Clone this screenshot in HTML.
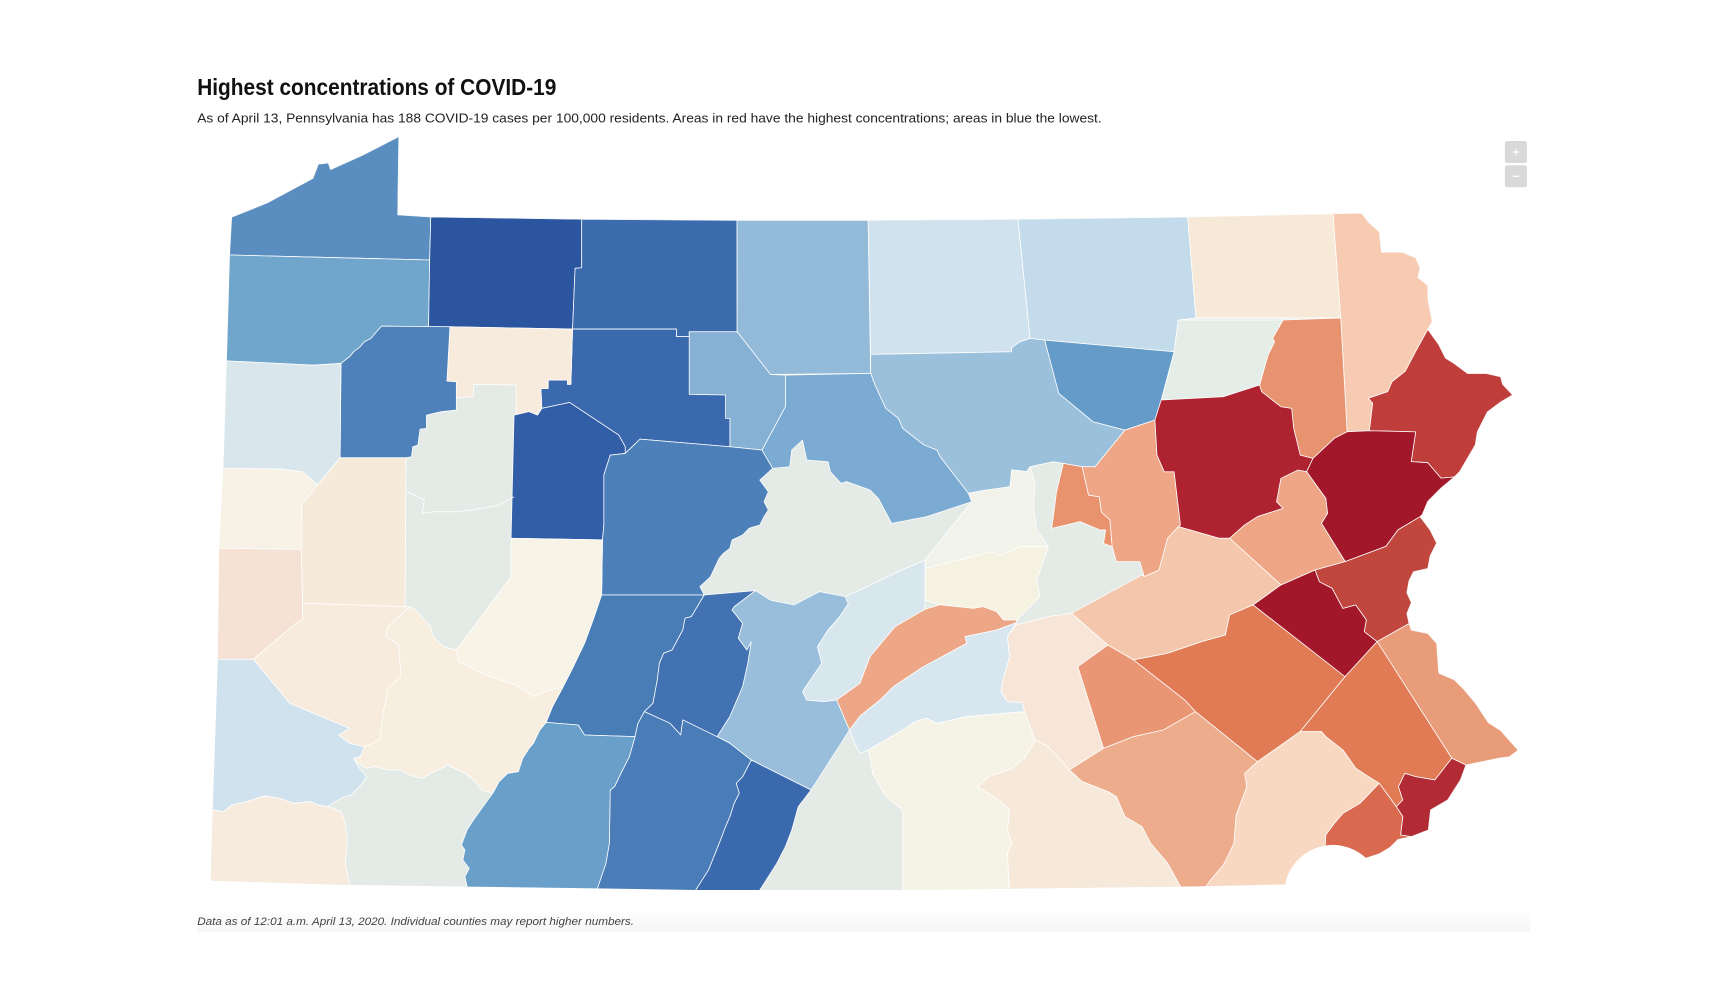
<!DOCTYPE html>
<html><head><meta charset="utf-8"><style>
html,body{margin:0;padding:0;background:#fff;}
svg{display:block;}
</style></head><body>
<svg xmlns="http://www.w3.org/2000/svg" width="1728" height="1008" viewBox="0 0 1568.5 915" preserveAspectRatio="none">
<defs>
<clipPath id="pa"><path d="M210.6,197 L243,184 L284,162 L289,149 L298,148 L300,154 L329,141 L362,124 L361,195 L391,197 L528,199 L669,200 L788,200 L924,199 L1078,197 L1210,194 L1236,193.5 L1242,201.5 L1252,210.5 L1254,229 L1273,229 L1285,234 L1289,243 L1287,252 L1296,259 L1296,271 L1300,292 L1296,299 L1306,313 L1312,325 L1320,330 L1332,339 L1349,339 L1362,342 L1364,349 L1373,358.5 L1362,365 L1350,374 L1341,392 L1339,404 L1325,428 L1320,433 L1308,443 L1296,455 L1291,467 L1289,469 L1298,481 L1304,493 L1298,505 L1296,516 L1283,519 L1279,527 L1277,538 L1281,547 L1277,557 L1279,566 L1281,572 L1296,575 L1304,584 L1306,611 L1320,617 L1329,626 L1339,638 L1351,656 L1362,663 L1370,672 L1378,681 L1370,687 L1362,688 L1330.6,694.4 L1325.6,708 L1314,726.2 L1298.5,735.2 L1296.5,753.4 L1281,759.4 L1269,762 L1262,769 L1252,775 L1240,779 A44,44 0 0 0 1166.5,803 L1071.5,804.8 L819,808 L689.7,807.9 L631.5,807.9 L542.3,806.4 L424,804.8 L317.3,803.3 L191.2,799.4 L193.1,735.2 L197.8,598.5 L199,497.7 L202.8,425.2 L205.9,327.7 L208.7,231.5 Z"/></clipPath>
<linearGradient id="fb" x1="0" y1="0" x2="0" y2="1"><stop offset="0" stop-color="#ffffff"/><stop offset="1" stop-color="#f6f6f6"/></linearGradient>
</defs>

<text x="179" y="86.2" font-family="Liberation Sans, Arial, sans-serif" font-weight="bold" font-size="20.9" fill="#111" textLength="326" lengthAdjust="spacingAndGlyphs">Highest concentrations of COVID-19</text>
<text x="179" y="111.4" font-family="Liberation Sans, Arial, sans-serif" font-size="11.8" fill="#222" textLength="821" lengthAdjust="spacingAndGlyphs">As of April 13, Pennsylvania has 188 COVID-19 cases per 100,000 residents. Areas in red have the highest concentrations; areas in blue the lowest.</text>

<rect x="1366" y="128" width="20" height="20" rx="2" fill="#d9d9d9"/>
<rect x="1366" y="150" width="20" height="20" rx="2" fill="#d9d9d9"/>
<path d="M1373,138 H1379 M1376,135 V141" stroke="#fff" stroke-width="1.2"/>
<path d="M1373,160 H1379" stroke="#fff" stroke-width="1.2"/>

<rect x="179" y="825" width="1210" height="21" fill="url(#fb)"/>
<text x="179" y="839.6" font-family="Liberation Sans, Arial, sans-serif" font-style="italic" font-size="10" fill="#444" textLength="396.5" lengthAdjust="spacingAndGlyphs">Data as of 12:01 a.m. April 13, 2020. Individual counties may report higher numbers.</text>

<g clip-path="url(#pa)">
<rect x="150" y="100" width="1300" height="750" fill="#e4ebe7"/>
<g stroke="#ffffff" stroke-width="0.7" stroke-linejoin="round">
<!-- Erie -->
<polygon fill="#5a8ec0" points="210.6,197 243,184 284,162 289,149 298,148 300,154 329,141 362,124 361,195 391,197 390,236 208.7,231.5 190,231 190,190"/>
<!-- Crawford -->
<polygon fill="#70a5cc" points="208.7,231.5 390,236 389,296.5 346.4,296 340.5,302.6 336.7,307.2 330.8,310.2 327,314.7 321.1,319.3 317.3,323.8 313.4,326.8 309.5,329.9 284.3,331.4 220.3,328.3 205.9,327.7 190,328 190,231"/>
<!-- Warren -->
<polygon fill="#2c55a0" points="391,197 528,199 528,243 522,243.5 519.7,298.7 408.4,296.6 389,296.5 390,236"/>
<!-- McKean -->
<polygon fill="#3c6bae" points="528,199 669,200 669.1,301.1 625.6,301.1 625.6,305.6 614,305.6 614,298.7 519.7,298.7 522,243.5 528,243"/>
<!-- Potter -->
<polygon fill="#93bad8" points="669,200 788,200 790.3,338.9 699.3,339.9 669.1,301.1"/>
<!-- Tioga -->
<polygon fill="#d0e2ee" points="788,200 924,199 935,307.2 926,310.2 918.3,315.6 918.3,319.3 790.3,321.7"/>
<!-- Bradford -->
<polygon fill="#c3dbea" points="924,199 1078,197 1085.6,288.6 1069.6,290.5 1065.7,319.3 948.2,308.7 935,307.2"/>
<!-- Susquehanna -->
<polygon fill="#f7e9d7" points="1078,197 1210,194 1217,288.6 1085.6,288.6"/>
<!-- Wayne -->
<polygon fill="#f6cbb2" points="1210,194 1236,193.5 1242,201.5 1252,210.5 1254,229 1273,229 1285,234 1289,243 1287,252 1296,259 1296,271 1300,292 1296,299 1285,319 1275.6,337 1263.5,346.5 1259.7,355.5 1242,361.5 1246,366 1243,391 1222.8,391.9 1217,288.6"/>
<!-- Pike -->
<polygon fill="#bf3e3b" points="1296,299 1306,313 1312,325 1320,330 1332,339 1349,339 1362,342 1364,349 1373,358.5 1362,365 1350,374 1341,392 1339,404 1325,428 1320,433 1308,434 1296,420 1281,419 1285,392 1243,391 1246,366 1242,361.5 1259.7,355.5 1263.5,346.5 1275.6,337 1285,319"/>
<!-- Lackawanna -->
<polygon fill="#e8936f" points="1164.6,290.5 1217,288.6 1222.8,391.9 1211.2,397.9 1191.8,416.1 1180.2,413.1 1174.3,388.9 1172.4,370.7 1162.7,369.2 1145.2,355.6 1143.3,349.5 1151,322.3 1156.9,310.2 1155,307.2"/>
<!-- Wyoming -->
<polygon fill="#e5ede8" points="1069.6,290.5 1164.6,290.5 1155,307.2 1156.9,310.2 1151,322.3 1143.3,349.5 1110.3,360.1 1054,363.1 1065.7,319.3"/>
<!-- Sullivan -->
<polygon fill="#659bc8" points="948.2,308.7 1065.7,319.3 1054,363.1 1048.3,381.3 1021.1,390.4 992,382.8 961,357.1"/>
<!-- Lycoming -->
<polygon fill="#9bc0dc" points="790.3,321.7 918.3,319.3 918.3,315.6 926,310.2 935,307.2 948.2,308.7 961,357.1 992,382.8 1021.1,390.4 994,423.7 982.3,423.7 965.2,420.6 956.2,419.1 935,423.6 932,428.1 918.3,426.6 916.8,441.8 895.6,444.8 879,447.8 853.3,414.5 850.4,408.5 838.8,404 819.4,388.9 815.5,379.8 803.9,370.7 794.2,349.5 790.3,338.9"/>
<!-- Union -->
<polygon fill="#f1f3eb" points="879,447.8 895.6,444.8 916.8,441.8 918.3,426.6 932,428.1 935,423.6 939.5,438.7 938,459.9 941,481.1 951.6,496.2 925.9,496.2 907.7,503.8 900.2,500.8 839.7,515.9 839.7,508.3 882,455.4"/>
<!-- Clinton -->
<polygon fill="#7babd2" points="712.9,340.5 790.3,338.9 794.2,349.5 803.9,370.7 815.5,379.8 819.4,388.9 838.8,404 850.4,408.5 853.3,414.5 879,447.8 882,455.4 841.2,469 809.4,475.1 797.3,452.4 789.7,444.8 768.5,437.2 763.4,438.8 753.7,428.2 751.7,419.1 732.3,417.6 728.4,399.5 718.7,408.5 716.8,423.7 701.3,425.2 691.6,408.5 712.9,369.2"/>
<!-- Cameron -->
<polygon fill="#86b1d5" points="625.6,301.1 669.1,301.1 699.3,339.9 712.9,340.5 712.9,369.2 691.6,408.5 662.5,405.5 662.5,379.8 658.6,379.8 658.6,358.6 625.6,358"/>
<!-- Elk -->
<polygon fill="#3a69ad" points="519.7,298.7 614,298.7 614,305.6 625.6,305.6 625.6,358 658.6,358.6 658.6,379.8 662.5,379.8 662.5,405.5 581,398.6 567.5,411.6 567.5,405.5 561.6,394.9 517,365.3 513.2,366.2 491.8,370.7 491,352.6 497.6,352.6 497.6,345 515.1,345 515.1,348.9 518.2,348.9"/>
<!-- Forest -->
<polygon fill="#f6ebdc" points="408.4,296.6 519.7,298.7 518.2,348.9 515.1,348.9 515.1,345 497.6,345 497.6,352.6 491,352.6 491.8,370.7 488,376.8 480.2,373.7 468.5,376.8 468.5,349.5 429.8,348.9 429.8,360.1 414.2,361 414.2,346.5 405.7,345.9"/>
<!-- Venango -->
<polygon fill="#4e81b9" points="346.4,296 408.4,296.6 405.7,345.9 414.2,346.5 414.2,372.2 400.7,373.7 387.1,376.8 387.1,388.9 381.3,389.5 379.3,404 374.7,405.5 373.5,414.6 368.5,415.5 308.7,415.5 309.5,329.9 313.4,326.8 317.3,323.8 321.1,319.3 327,314.7 330.8,310.2 336.7,307.2 340.5,302.6"/>
<!-- Mercer -->
<polygon fill="#d9e7ec" points="205.9,327.7 220.3,328.3 284.3,331.4 309.5,329.9 308.7,415.5 288.2,440.3 274.6,428.2 255.2,425.8 202.8,425.2 190,425 190,328"/>
<!-- Lawrence -->
<polygon fill="#f8f1e5" points="202.8,425.2 255.2,425.8 274.6,428.2 288.2,440.3 273.8,458.5 273.4,498.6 199,497.7 190,497 190,425"/>
<!-- Butler -->
<polygon fill="#f6eadb" points="308.7,415.5 368.5,415.5 367.7,550.7 274.6,547.6 273.4,498.6 273.8,458.5 288.2,440.3"/>
<!-- Beaver -->
<polygon fill="#f6e2d4" points="199,497.7 273.4,498.6 274.6,547.6 274.6,562.8 268.8,565.8 230,598.5 197.8,598.5 185,598 185,497"/>
<!-- Jefferson -->
<polygon fill="#325da7" points="466.6,376.8 480.2,373.7 488,376.8 491.8,370.7 513.2,366.2 517,365.3 561.6,394.9 567.5,405.5 567.5,411.6 553.9,413.1 548.1,431.2 548.1,476.6 546.9,490.1 463.9,488.6"/>
<!-- Clearfield -->
<polygon fill="#4d80b8" points="567.5,411.6 581,398.6 662.5,405.5 691.6,408.5 701.3,425.2 689.7,435.8 697.4,446.4 693.5,455.4 697.4,462.9 693.5,469 689.7,476.5 680,479.5 674.1,485.6 664.5,490.1 662.5,497.7 656.7,502.2 652.8,506.8 645,523.4 635.3,532.5 639.2,540.1 546.1,540.1 546.9,490.1 548.1,476.6 548.1,431.2 553.9,413.1"/>
<!-- Indiana -->
<polygon fill="#f7f3e6" points="463.9,488.6 546.9,490.1 546.1,540.1 538.4,562.8 530.6,584 519,608.1 511.2,623.3 499.6,626.3 484.1,632.3 468.5,621.8 453,617.2 437.5,611.2 425.9,605.1 416.2,600.6 414.2,590 463.9,523.4"/>
<!-- Cambria -->
<polygon fill="#497db6" points="546.1,540.1 639.2,540.1 627.6,559.7 621.8,561.2 619.8,571.8 610.1,590 602.4,593 598.5,602.1 596.6,617.2 592.7,638.4 584.9,646 579.1,656.6 576.4,668.7 530.6,667.2 524.8,658.1 495.7,655.7 501.5,641.4 511.2,623.3 519,608.1 530.6,584 538.4,562.8"/>
<!-- Blair -->
<polygon fill="#4372b2" points="639.2,540.1 685.8,536.1 666.4,550.7 664.5,553.7 674.1,565.8 670.2,579.4 678,590 681.9,582.4 678.8,602.1 674.1,623.3 662.5,650.5 650.9,668.7 619.8,653.5 617.9,667.2 608.2,656.6 584.9,646 592.7,638.4 596.6,617.2 598.5,602.1 602.4,593 610.1,590 619.8,571.8 621.8,561.2 627.6,559.7"/>
<!-- Huntingdon -->
<polygon fill="#98bedb" points="685.8,536.1 700,545 720.8,549.1 744,537 767.3,541.6 770,548 762,560 751.7,571.8 742,587 745.9,602.1 728.4,627.8 732.3,635.4 747.8,636.9 759.5,635.4 771.1,662.6 763.4,674.7 751.7,692.9 744,705 736.2,717.1 681.9,689.9 662.5,674.7 650.9,668.7 662.5,650.5 674.1,623.3 678.8,602.1 681.9,582.4 678,590 670.2,579.4 674.1,565.8 664.5,553.7 666.4,550.7"/>
<!-- Mifflin -->
<polygon fill="#d8e6ee" points="728.4,627.8 745.9,602.1 742,587 751.7,571.8 762,560 770,548 767.3,541.6 790,531 815,519 839.7,508.3 839.7,515.9 839.7,544.6 839.7,553 812.4,568.9 789.7,596.1 780.6,620.3 759.5,635.4 747.8,636.9 732.3,635.4"/>
<!-- Snyder -->
<polygon fill="#f5f2e2" points="839.7,515.9 900.2,500.8 907.7,503.8 925.9,496.2 951.6,496.2 941,526.5 944,541.6 922.9,562.8 910.8,562.8 904.7,555.2 892.6,550.7 883.5,552.2 853,549 839.7,544.6"/>
<!-- Juniata -->
<polygon fill="#eda686" points="759.5,635.4 780.6,620.3 789.7,596.1 812.4,568.9 839.7,553 853,549 883.5,552.2 892.6,550.7 904.7,555.2 910.8,562.8 922.9,562.8 922.9,565 904.7,571.9 876,577.9 877.5,584 838.2,605.2 810.9,623.3 798.8,635.4 780.6,650 771.1,662.6"/>
<!-- Perry + Cumberland -->
<polygon fill="#d8e7ef" points="771.1,662.6 780.6,650 798.8,635.4 810.9,623.3 838.2,605.2 877.5,584 876,577.9 904.7,571.9 922.9,565 924.1,562.8 914.4,577.9 916.4,596.1 910.5,617.2 908.6,627.8 914.4,636.9 928,637.8 930,646 877.6,650.5 850.4,656.6 840.7,652 831,655 819.4,662.6 803.9,671.7 788.4,680.8 780.6,683.8 776,675"/>
<!-- Montour -->
<polygon fill="#e8926e" points="965.2,420.6 982.3,423.7 988.1,449.4 997.8,450.9 999.8,465 1007.5,472 1009.5,496.2 1001.7,493.2 1003.6,481 998.5,481.1 980.4,473.5 954.7,479.6 957.1,461.5 959,446.4"/>
<!-- Columbia -->
<polygon fill="#eea687" points="1021.1,390.4 1048.3,381.3 1050.2,413.1 1056.8,428.2 1065.7,428.2 1071.5,476.6 1069.6,478 1059.9,488.6 1052.1,517.4 1038.6,523.4 1034.7,509.8 1013.3,509.8 1009.5,496.2 1007.5,472 999.8,465 997.8,450.9 988.1,449.4 982.3,423.7 994,423.7"/>
<!-- Luzerne -->
<polygon fill="#af2230" points="1054,363.1 1110.3,360.1 1143.3,349.5 1145.2,355.6 1162.7,369.2 1172.4,370.7 1174.3,388.9 1180.2,413.1 1191.8,416.1 1186,428.2 1178.2,426.7 1162.7,434.3 1158.8,455.4 1164.6,461.5 1141.4,469 1129.7,476.6 1116.1,488.6 1106.4,488.6 1069.6,478 1071.5,476.6 1065.7,428.2 1056.8,428.2 1050.2,413.1 1048.3,381.3"/>
<!-- Monroe -->
<polygon fill="#a3172a" points="1191.8,416.1 1211.2,397.9 1222.8,391.9 1243,391 1285,392 1281,419 1296,420 1308,434 1320,433 1308,443 1296,455 1291,467 1289,469 1269,481 1258,496 1221,509.8 1199.5,475 1205,466 1203.4,452.4 1186,428.2"/>
<!-- Carbon -->
<polygon fill="#eea687" points="1178.2,426.7 1186,428.2 1203.4,452.4 1205,466 1199.5,475 1221,509.8 1193.7,517.4 1162.7,531 1116.1,488.6 1129.7,476.6 1141.4,469 1164.6,461.5 1158.8,455.4 1162.7,434.3"/>
<!-- Schuylkill -->
<polygon fill="#f4c6ab" points="972.6,556.7 1036.6,521.9 1038.6,523.4 1052.1,517.4 1059.9,488.6 1069.6,478 1106.4,488.6 1116.1,488.6 1162.7,531 1137.5,549.1 1116.1,558.2 1112.3,576.4 1090.9,582.4 1059.9,593 1028.9,599 1005.6,585.5"/>
<!-- Dauphin -->
<polygon fill="#f7e5d7" points="922.2,567.3 951.3,559.7 972.6,556.7 1005.6,585.5 978.4,605.1 1001.7,679.3 970.7,698.9 951.3,677.7 939.6,671.7 930,646 928,637.8 914.4,636.9 908.6,627.8 910.5,617.2 916.4,596.1 914.4,577.9"/>
<!-- Lebanon -->
<polygon fill="#e99674" points="1005.6,585.5 1028.9,599 1075.4,635.4 1085.1,646 1056,662.6 1028.9,668.7 1001.7,679.3 978.4,605.1"/>
<!-- Berks -->
<polygon fill="#e07b56" points="1028.9,599 1059.9,593 1090.9,582.4 1112.3,576.4 1116.1,558.2 1137.5,549.1 1220.9,614.2 1180.2,664.1 1141.4,691.4 1085.1,646 1075.4,635.4"/>
<!-- Lehigh -->
<polygon fill="#a3172a" points="1162.7,531 1193.7,517.4 1197.6,528 1209.2,534 1218.9,552.2 1230.6,549.1 1240.3,562.8 1238.4,573.3 1250,582.4 1220.9,614.2 1137.5,549.1"/>
<!-- Northampton -->
<polygon fill="#c0463e" points="1221,509.8 1258,496 1269,481 1289,469 1298,481 1304,493 1298,505 1296,516 1283,519 1279,527 1277,538 1281,547 1277,557 1279,566 1250,582.4 1238.4,573.3 1240.3,562.8 1230.6,549.1 1218.9,552.2 1209.2,534 1197.6,528 1193.7,517.4"/>
<!-- Bucks -->
<polygon fill="#e99c7a" points="1250,582.4 1279,566 1281,572 1296,575 1304,584 1306,611 1320,617 1329,626 1339,638 1351,656 1362,663 1370,672 1378,681 1370,687 1362,688 1330.6,694.4 1317.8,688.3"/>
<!-- Montgomery -->
<polygon fill="#e07b56" points="1220.9,614.2 1250,582.4 1317.8,688.3 1302.4,708 1284.9,705 1275.2,702 1269.4,714.1 1273.3,726.2 1267.4,732.2 1251.9,711 1242.2,705 1230.6,697.4 1219,680.8 1203.4,668.7 1199.5,664.1 1180.2,664.1"/>
<!-- Philadelphia -->
<polygon fill="#b22a33" points="1317.8,688.3 1330.6,694.4 1325.6,708 1314,726.2 1298.5,735.2 1296.5,753.4 1281,759.4 1271.3,758 1273.3,741.3 1267.4,732.2 1273.3,726.2 1269.4,714.1 1275.2,702 1284.9,705 1302.4,708"/>
<!-- Delaware -->
<polygon fill="#d9694f" points="1251.9,711 1267.4,732.2 1273.3,741.3 1271.3,758 1281,759.4 1269,762 1262,769 1252,775 1240,779 1210,775 1202.6,771.6 1203.4,757.9 1211.2,747.3 1218.9,738.3 1234.4,729.2"/>
<!-- Chester -->
<polygon fill="#f8d8c1" points="1141.4,691.4 1180.2,664.1 1199.5,664.1 1203.4,668.7 1219,680.8 1230.6,697.4 1242.2,705 1251.9,711 1234.4,729.2 1218.9,738.3 1211.2,747.3 1203.4,757.9 1202.6,771.6 1190,790 1166.5,803 1094.8,804.8 1098.7,798.8 1110.3,785.2 1114.2,777.6 1120,765.5 1122,739.8 1131.7,714.1 1129.7,702"/>
<!-- Lancaster -->
<polygon fill="#edac8b" points="970.7,698.9 1001.7,679.3 1028.9,668.7 1056,662.6 1085.1,646 1141.4,691.4 1129.7,702 1131.7,714.1 1122,739.8 1120,765.5 1114.2,777.6 1110.3,785.2 1098.7,798.8 1094.8,804.8 1094,815 1071.5,815 1071.5,804.8 1059.9,783.7 1044.4,765.5 1036.6,750.4 1021.1,741.3 1013.3,723.1 1005.6,718.6 982.3,709.5"/>
<!-- York -->
<polygon fill="#f6e9da" points="939.6,671.7 951.3,677.7 970.7,698.9 982.3,709.5 1005.6,718.6 1013.3,723.1 1021.1,741.3 1036.6,750.4 1044.4,765.5 1059.9,783.7 1071.5,804.8 1071.5,815 916.4,815 916.4,807.9 914.4,774.6 918.3,765.5 914.4,753.4 916.4,735.2 908.6,727.7 887.3,714.1 897,705 916.4,698.9 930,688.3"/>
<!-- Adams -->
<polygon fill="#f5f3e5" points="788.4,680.8 803.9,671.7 819.4,662.6 831,655 840.7,652 850.4,656.6 877.6,650.5 930,646 939.6,671.7 930,688.3 916.4,698.9 897,705 887.3,714.1 908.6,727.7 916.4,735.2 914.4,753.4 918.3,765.5 914.4,774.6 916.4,815 819.4,815 819.4,735.2 803.9,723.1 792.2,702"/>
<!-- Fulton -->
<polygon fill="#3a69ad" points="681.9,689.9 736.2,717.1 724.6,732.2 718.7,753.4 712.9,768.5 705.1,783.7 697.4,795.8 689.7,807.9 689.7,815 631.5,815 631.5,807.9 643.1,789.7 652.8,765.5 658.6,750.4 662.5,741.3 666.4,729.2 671,720.1 668.3,711 674.1,705"/>
<!-- Bedford -->
<polygon fill="#4a7db7" points="576.4,668.7 579.1,656.6 584.9,646 608.2,656.6 617.9,667.2 619.8,653.5 650.9,668.7 662.5,674.7 681.9,689.9 674.1,705 668.3,711 671,720.1 666.4,729.2 662.5,741.3 658.6,750.4 652.8,765.5 643.1,789.7 631.5,807.9 631.5,815 542.3,815 542.3,806.4 550,783.7 553.1,765.5 553.9,717.1 557.8,714.1 563.6,702 571.3,686.8"/>
<!-- Somerset -->
<polygon fill="#6a9fca" points="495.7,655.7 524.8,658.1 530.6,667.2 576.4,668.7 571.3,686.8 563.6,702 557.8,714.1 553.9,717.1 553.1,765.5 550,783.7 542.3,806.4 542.3,815 424,815 424,804.8 422,795.8 425.9,788.2 420.1,780.6 422,771.6 418.9,767 424,753.4 429.8,744.3 447.2,720.1 453,709.5 460.8,702 470.5,700.4 474.4,688.3 480.2,679.3 484.1,674.7 489.9,662.6"/>
<!-- Westmoreland -->
<polygon fill="#f7eee0" points="371.6,550.7 377.4,553.7 385.2,562.8 391,568.8 392.9,577.9 402.6,587 414.2,590 416.2,600.6 425.9,605.1 437.5,611.2 453,617.2 468.5,621.8 484.1,632.3 499.6,626.3 511.2,623.3 501.5,641.4 495.7,655.7 489.9,662.6 484.1,674.7 480.2,679.3 474.4,688.3 470.5,700.4 460.8,702 453,709.5 447.2,720.1 437.5,717.1 429.8,708 422,702 406.5,694.4 391,702 383.2,706.5 371.6,703.5 363.8,698.9 352.2,698.9 340.5,695.9 332.8,697.4 325,692.9 321.1,688.3 327,686.8 330.8,677.8 344.4,671.7 348.3,644.5 352.2,624.8 363.8,614.2 361.9,585.5 350.2,577.9 352.2,568.8"/>
<!-- Allegheny -->
<polygon fill="#f6ebdc" points="274.6,547.6 367.7,550.7 371.6,550.7 352.2,568.8 350.2,577.9 361.9,585.5 363.8,614.2 352.2,624.8 348.3,644.5 344.4,671.7 330.8,677.8 317.3,674.7 307.6,667.2 317.3,661.1 263,638.4 230,598.5 268.8,565.8 274.6,562.8"/>
<!-- Washington -->
<polygon fill="#d1e2ef" points="197.8,598.5 230,598.5 263,638.4 317.3,661.1 307.6,667.2 317.3,674.7 330.8,677.8 327,686.8 321.1,688.3 325,695.9 332.8,705 329,711 323.1,717.1 319.2,721.6 313.4,723.1 303.7,727.7 297.9,732.2 288.2,730.7 282.4,727.7 266.8,729.2 253.3,724.6 239.7,722.5 224.2,727.7 210.6,730.7 202.8,736.8 193.1,735.2 185,735 185,598"/>
<!-- Greene -->
<polygon fill="#f6ebdc" points="193.1,735.2 202.8,736.8 210.6,730.7 224.2,727.7 239.7,722.5 253.3,724.6 266.8,729.2 282.4,727.7 288.2,730.7 297.9,732.2 309.5,736.8 313.4,747.3 315.3,762.5 313.4,783.7 317.3,803.3 317.3,815 185,815 185,735"/>
</g>
<!-- Clarion river line -->
<polyline fill="none" stroke="#ffffff" stroke-width="0.7" points="369.6,446.4 385.2,453.9 383.2,466 392.9,464.5 414.2,464.5 427.8,463 453,458.5 466.6,450.9"/>
</g>
</svg>
</body></html>
